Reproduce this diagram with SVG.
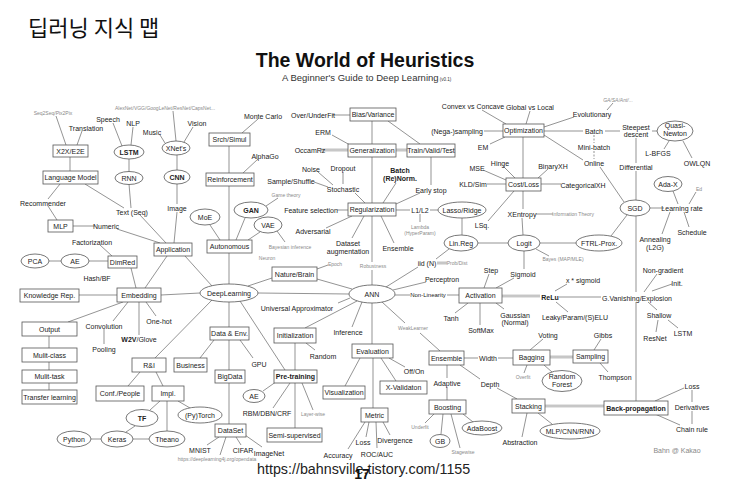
<svg xmlns="http://www.w3.org/2000/svg" width="729" height="483" viewBox="0 0 729 483">
<style>
text{font-family:"Liberation Sans",Arial,sans-serif;font-size:7px;fill:#222;text-anchor:middle}
.b{font-weight:bold}
.g{font-size:5px;fill:#8a8a8a}
.s{font-size:6px}
.n rect,.n ellipse{fill:#fff;stroke:#555;stroke-width:0.8}
#edges line{stroke:#666;stroke-width:0.7}
#edges line.d{stroke:#999;stroke-width:2.6}
#edges line.w{stroke:#fff;stroke-width:0.9}
#edges line.dash{stroke-dasharray:2 1.5}
</style>
<rect width="729" height="483" fill="#fff"/>
<g id="title">
<text x="28" y="36" style="font-family:'Noto Sans CJK KR','Noto Sans',sans-serif;font-size:22px;text-anchor:start;fill:#111">딥러닝 지식 맵</text>
<text x="365" y="67" class="b" style="font-size:19.5px;fill:#111">The World of Heuristics</text>
<text x="282" y="81" style="font-size:9.5px;text-anchor:start;fill:#333">A Beginner's Guide to Deep Learning<tspan style="font-size:4.5px"> (v0.1)</tspan></text>
</g>
<g id="edges">
<line x1="56" y1="116" x2="66" y2="145"/>
<line x1="82" y1="131" x2="77" y2="145"/>
<line x1="70" y1="157" x2="70" y2="171"/>
<line x1="60" y1="184" x2="48" y2="199"/>
<line x1="85" y1="184" x2="124" y2="208"/>
<line x1="48" y1="206" x2="57" y2="220"/>
<line x1="73" y1="226" x2="95" y2="226"/>
<line x1="117" y1="229" x2="160" y2="243"/>
<line x1="140" y1="215" x2="166" y2="243"/>
<line x1="177" y1="212" x2="174" y2="243"/>
<line x1="113" y1="123" x2="122" y2="146"/>
<line x1="133" y1="127" x2="131" y2="145"/>
<line x1="129" y1="159" x2="129" y2="172"/>
<line x1="129" y1="184" x2="131" y2="208"/>
<line x1="160" y1="135" x2="165" y2="143"/>
<line x1="173" y1="111" x2="176" y2="141"/>
<line x1="193" y1="127" x2="184" y2="142"/>
<line x1="177" y1="155" x2="177" y2="170"/>
<line x1="177" y1="184" x2="177" y2="204"/>
<line x1="258" y1="119" x2="242" y2="133"/>
<line x1="229" y1="146" x2="229" y2="173"/>
<line x1="258" y1="159" x2="243" y2="173"/>
<line x1="229" y1="186" x2="229" y2="240"/>
<line x1="210" y1="225" x2="220" y2="240"/>
<line x1="245" y1="218" x2="236" y2="240"/>
<line x1="260" y1="232" x2="248" y2="240"/>
<line x1="266" y1="206" x2="278" y2="198"/>
<line x1="277" y1="231" x2="285" y2="242"/>
<line x1="229" y1="253" x2="229" y2="284"/>
<line x1="185" y1="256" x2="212" y2="286"/>
<line x1="167" y1="256" x2="145" y2="288"/>
<line x1="131" y1="268" x2="136" y2="288"/>
<line x1="100" y1="245" x2="112" y2="256"/>
<line x1="49" y1="261" x2="61" y2="261"/>
<line x1="89" y1="261" x2="108" y2="261"/>
<line x1="79" y1="295" x2="117" y2="295"/>
<line x1="161" y1="295" x2="200" y2="293"/>
<line x1="123" y1="302" x2="68" y2="322"/>
<line x1="128" y1="302" x2="113" y2="321"/>
<line x1="104" y1="329" x2="104" y2="344"/>
<line x1="139" y1="302" x2="139" y2="335"/>
<line x1="146" y1="302" x2="156" y2="316"/>
<line x1="49" y1="336" x2="49" y2="348"/>
<line x1="49" y1="362" x2="49" y2="370"/>
<line x1="49" y1="383" x2="49" y2="390"/>
<line x1="248" y1="286" x2="272" y2="278"/>
<line x1="317" y1="269" x2="328" y2="265"/>
<line x1="317" y1="279" x2="352" y2="289"/>
<line x1="258" y1="293" x2="349" y2="294"/>
<line x1="229" y1="302" x2="229" y2="327"/>
<line x1="240" y1="301" x2="285" y2="370"/>
<line x1="212" y1="300" x2="155" y2="358"/>
<line x1="214" y1="340" x2="200" y2="358"/>
<line x1="229" y1="340" x2="229" y2="370"/>
<line x1="240" y1="340" x2="253" y2="358"/>
<line x1="229" y1="383" x2="229" y2="424"/>
<line x1="219" y1="437" x2="207" y2="445"/>
<line x1="226" y1="437" x2="220" y2="455"/>
<line x1="236" y1="437" x2="241" y2="445"/>
<line x1="245" y1="435" x2="262" y2="447"/>
<line x1="140" y1="372" x2="128" y2="386"/>
<line x1="156" y1="372" x2="163" y2="386"/>
<line x1="160" y1="401" x2="150" y2="410"/>
<line x1="167" y1="401" x2="167" y2="431"/>
<line x1="178" y1="401" x2="190" y2="408"/>
<line x1="135" y1="426" x2="126" y2="432"/>
<line x1="91" y1="439" x2="101" y2="439"/>
<line x1="133" y1="439" x2="149" y2="439"/>
<line x1="350" y1="298" x2="338" y2="303"/>
<line x1="357" y1="301" x2="305" y2="328"/>
<line x1="306" y1="343" x2="315" y2="350"/>
<line x1="295" y1="343" x2="295" y2="370"/>
<line x1="280" y1="379" x2="263" y2="391"/>
<line x1="290" y1="383" x2="273" y2="408"/>
<line x1="302" y1="383" x2="313" y2="410"/>
<line x1="295" y1="383" x2="295" y2="428"/>
<line x1="362" y1="302" x2="352" y2="327"/>
<line x1="372" y1="303" x2="372" y2="344"/>
<line x1="382" y1="302" x2="405" y2="323"/>
<line x1="420" y1="333" x2="440" y2="351"/>
<line x1="364" y1="216" x2="352" y2="238"/>
<line x1="352" y1="216" x2="326" y2="228"/>
<line x1="372" y1="216" x2="372" y2="262"/>
<line x1="372" y1="270" x2="372" y2="285"/>
<line x1="381" y1="216" x2="394" y2="243"/>
<line x1="337" y1="210" x2="348" y2="210"/>
<line x1="355" y1="193" x2="365" y2="203"/>
<line x1="318" y1="172" x2="333" y2="185"/>
<line x1="343" y1="172" x2="343" y2="184"/>
<line x1="314" y1="182" x2="328" y2="187"/>
<line x1="396" y1="183" x2="383" y2="203"/>
<line x1="420" y1="193" x2="396" y2="204"/>
<line x1="431" y1="157" x2="431" y2="185"/>
<line class="d" x1="396" y1="150" x2="407" y2="150"/>
<line class="w" x1="396" y1="150" x2="407" y2="150"/>
<line x1="372" y1="157" x2="372" y2="203"/>
<line x1="372" y1="121" x2="372" y2="144"/>
<line x1="388" y1="121" x2="420" y2="144"/>
<line x1="332" y1="115" x2="350" y2="115"/>
<line x1="332" y1="135" x2="350" y2="145"/>
<line class="d" x1="321" y1="150" x2="348" y2="150"/>
<line class="w" x1="321" y1="150" x2="348" y2="150"/>
<line x1="396" y1="210" x2="410" y2="210"/>
<line x1="430" y1="210" x2="438" y2="210"/>
<line x1="420" y1="214" x2="420" y2="222"/>
<line x1="462" y1="218" x2="462" y2="235"/>
<line x1="449" y1="249" x2="436" y2="259"/>
<line class="d" x1="437" y1="263" x2="447" y2="263"/>
<line class="w" x1="437" y1="263" x2="447" y2="263"/>
<line x1="478" y1="243" x2="508" y2="243"/>
<line x1="540" y1="243" x2="576" y2="243"/>
<line x1="524" y1="251" x2="524" y2="269"/>
<line x1="536" y1="249" x2="549" y2="256"/>
<line x1="522" y1="218" x2="523" y2="235"/>
<line x1="536" y1="214" x2="553" y2="214"/>
<line x1="514" y1="191" x2="488" y2="221"/>
<line x1="523" y1="191" x2="523" y2="209"/>
<line x1="483" y1="170" x2="506" y2="180"/>
<line x1="503" y1="166" x2="515" y2="178"/>
<line x1="548" y1="169" x2="538" y2="178"/>
<line x1="487" y1="184" x2="506" y2="184"/>
<line x1="541" y1="184" x2="561" y2="184"/>
<line x1="523" y1="137" x2="523" y2="178"/>
<line x1="482" y1="110" x2="506" y2="124"/>
<line x1="530" y1="111" x2="526" y2="124"/>
<line x1="484" y1="131" x2="503" y2="131"/>
<line x1="490" y1="144" x2="505" y2="137"/>
<line x1="544" y1="127" x2="574" y2="117"/>
<line x1="607" y1="110" x2="613" y2="103"/>
<line x1="544" y1="131" x2="583" y2="131"/>
<line x1="605" y1="131" x2="620" y2="131"/>
<line class="dash" x1="594" y1="135" x2="594" y2="143"/>
<line class="dash" x1="594" y1="151" x2="594" y2="159"/>
<line x1="544" y1="135" x2="583" y2="160"/>
<line x1="652" y1="131" x2="657" y2="131"/>
<line x1="669" y1="141" x2="664" y2="149"/>
<line x1="683" y1="141" x2="692" y2="158"/>
<line x1="636" y1="138" x2="636" y2="163"/>
<line x1="636" y1="171" x2="636" y2="200"/>
<line x1="600" y1="167" x2="624" y2="202"/>
<line x1="650" y1="208" x2="664" y2="208"/>
<line x1="673" y1="191" x2="678" y2="204"/>
<line x1="696" y1="192" x2="689" y2="204"/>
<line x1="684" y1="212" x2="689" y2="227"/>
<line x1="670" y1="212" x2="662" y2="234"/>
<line x1="627" y1="215" x2="611" y2="236"/>
<line x1="636" y1="216" x2="636" y2="292"/>
<line x1="636" y1="302" x2="636" y2="401"/>
<line x1="657" y1="274" x2="644" y2="292"/>
<line x1="672" y1="284" x2="652" y2="291"/>
<line x1="648" y1="302" x2="657" y2="310"/>
<line x1="658" y1="320" x2="656" y2="332"/>
<line x1="668" y1="320" x2="678" y2="328"/>
<line x1="559" y1="297" x2="601" y2="297"/>
<line class="d" x1="502" y1="296" x2="540" y2="296"/>
<line class="w" x1="502" y1="296" x2="540" y2="296"/>
<line x1="484" y1="288" x2="489" y2="274"/>
<line x1="496" y1="288" x2="514" y2="278"/>
<line x1="468" y1="303" x2="455" y2="313"/>
<line x1="480" y1="303" x2="480" y2="325"/>
<line x1="496" y1="303" x2="504" y2="309"/>
<line x1="555" y1="291" x2="567" y2="284"/>
<line x1="556" y1="302" x2="568" y2="312"/>
<line x1="393" y1="290" x2="426" y2="282"/>
<line x1="386" y1="287" x2="418" y2="267"/>
<line x1="395" y1="295" x2="410" y2="295"/>
<line x1="447" y1="295" x2="459" y2="295"/>
<line x1="464" y1="358" x2="478" y2="358"/>
<line x1="498" y1="358" x2="513" y2="358"/>
<line x1="447" y1="365" x2="447" y2="378"/>
<line x1="460" y1="365" x2="480" y2="379"/>
<line x1="447" y1="387" x2="447" y2="400"/>
<line x1="497" y1="388" x2="517" y2="399"/>
<line x1="530" y1="350" x2="543" y2="339"/>
<line x1="527" y1="365" x2="524" y2="373"/>
<line x1="544" y1="365" x2="552" y2="372"/>
<line class="d" x1="550" y1="357" x2="573" y2="357"/>
<line class="w" x1="550" y1="357" x2="573" y2="357"/>
<line x1="594" y1="350" x2="601" y2="339"/>
<line x1="600" y1="363" x2="608" y2="372"/>
<line class="d" x1="545" y1="406" x2="604" y2="406"/>
<line class="w" x1="545" y1="406" x2="604" y2="406"/>
<line x1="538" y1="413" x2="552" y2="424"/>
<line x1="527" y1="413" x2="522" y2="437"/>
<line x1="434" y1="414" x2="425" y2="423"/>
<line x1="443" y1="414" x2="441" y2="434"/>
<line x1="451" y1="414" x2="460" y2="448"/>
<line x1="463" y1="414" x2="473" y2="422"/>
<line x1="655" y1="401" x2="684" y2="388"/>
<line x1="655" y1="414" x2="680" y2="425"/>
<line x1="692" y1="390" x2="692" y2="402"/>
<line x1="692" y1="411" x2="692" y2="424"/>
<line x1="360" y1="358" x2="345" y2="386"/>
<line x1="381" y1="358" x2="396" y2="381"/>
<line x1="389" y1="358" x2="405" y2="367"/>
<line x1="373" y1="358" x2="373" y2="408"/>
<line x1="365" y1="422" x2="348" y2="449"/>
<line x1="369" y1="422" x2="366" y2="437"/>
<line x1="376" y1="422" x2="377" y2="448"/>
<line x1="383" y1="422" x2="390" y2="435"/>
</g>
<g id="n-x2x" class="n"><rect x="53" y="145" width="35" height="12"/><text x="70.5" y="153.5">X2X/E2E</text></g>
<g id="n-langmodel" class="n"><rect x="43" y="171" width="55" height="13"/><text x="70.5" y="180">Language Model</text></g>
<g id="n-mlp" class="n"><rect x="48" y="220" width="25" height="12"/><text x="60.5" y="228.5">MLP</text></g>
<g id="n-srch" class="n"><rect x="209" y="133" width="41" height="13"/><text x="229.5" y="142">Srch/Simul</text></g>
<g id="n-reinf" class="n"><rect x="206" y="173" width="48" height="13"/><text x="230" y="182">Reinforcement</text></g>
<g id="n-auto" class="n"><rect x="207" y="240" width="45" height="13"/><text x="229.5" y="249">Autonomous</text></g>
<g id="n-app" class="n"><rect x="154" y="243" width="38" height="13"/><text x="173" y="252">Application</text></g>
<g id="n-bias" class="n"><rect x="350" y="108" width="46" height="13"/><text x="373" y="117">Bias/Variance</text></g>
<g id="n-gen" class="n"><rect x="348" y="144" width="48" height="13"/><text x="372" y="153">Generalization</text></g>
<g id="n-tvt" class="n"><rect x="407" y="144" width="48" height="13"/><text x="431" y="153">Train/Valid/Test</text></g>
<g id="n-reg" class="n"><rect x="348" y="203" width="48" height="13"/><text x="372" y="212">Regularization</text></g>
<g id="n-opt" class="n"><rect x="503" y="124" width="41" height="13"/><text x="523.5" y="133">Optimization</text></g>
<g id="n-cost" class="n"><rect x="506" y="178" width="35" height="13"/><text x="523.5" y="187">Cost/Loss</text></g>
<g id="n-dimred" class="n"><rect x="108" y="256" width="29" height="12"/><text x="122.5" y="264.5">DimRed</text></g>
<g id="n-krep" class="n"><rect x="20" y="289" width="59" height="13"/><text x="49.5" y="298">Knowledge Rep.</text></g>
<g id="n-embed" class="n"><rect x="117" y="288" width="44" height="14"/><text x="139" y="297.5">Embedding</text></g>
<g id="n-nature" class="n"><rect x="272" y="267" width="45" height="14"/><text x="294.5" y="276.5">Nature/Brain</text></g>
<g id="n-act" class="n"><rect x="459" y="288" width="43" height="15"/><text x="480.5" y="298">Activation</text></g>
<g id="n-output" class="n"><rect x="22" y="322" width="55" height="14"/><text x="49.5" y="331.5">Output</text></g>
<g id="n-mclass" class="n"><rect x="22" y="348" width="55" height="14"/><text x="49.5" y="357.5">Mulit-class</text></g>
<g id="n-mtask" class="n"><rect x="22" y="370" width="55" height="13"/><text x="49.5" y="379">Mulit-task</text></g>
<g id="n-transfer" class="n"><rect x="22" y="390" width="55" height="14"/><text x="49.5" y="399.5">Transfer learning</text></g>
<g id="n-dataenv" class="n"><rect x="210" y="327" width="39" height="13"/><text x="229.5" y="336">Data &amp; Env.</text></g>
<g id="n-init" class="n"><rect x="274" y="328" width="42" height="15"/><text x="295" y="338">Initialization</text></g>
<g id="n-eval" class="n"><rect x="352" y="344" width="41" height="14"/><text x="372.5" y="353.5">Evaluation</text></g>
<g id="n-ensemble" class="n"><rect x="429" y="351" width="35" height="14"/><text x="446.5" y="360.5">Ensemble</text></g>
<g id="n-bagging" class="n"><rect x="513" y="350" width="37" height="15"/><text x="531.5" y="360">Bagging</text></g>
<g id="n-sampling" class="n"><rect x="573" y="350" width="35" height="13"/><text x="590.5" y="359">Sampling</text></g>
<g id="n-ri" class="n"><rect x="132" y="358" width="34" height="14"/><text x="149" y="367.5">R&amp;I</text></g>
<g id="n-business" class="n"><rect x="174" y="358" width="33" height="14"/><text x="190.5" y="367.5">Business</text></g>
<g id="n-bigdata" class="n"><rect x="215" y="370" width="30" height="13"/><text x="230" y="379">BigData</text></g>
<g id="n-pretrain" class="n"><rect x="274" y="370" width="43" height="13"/><text x="295.5" y="379" class="b">Pre-training</text></g>
<g id="n-conf" class="n"><rect x="96" y="386" width="48" height="15"/><text x="120" y="396">Conf./People</text></g>
<g id="n-impl" class="n"><rect x="152" y="386" width="32" height="15"/><text x="168" y="396">Impl.</text></g>
<g id="n-vis" class="n"><rect x="323" y="386" width="42" height="13"/><text x="344" y="395">Visualization</text></g>
<g id="n-xval" class="n"><rect x="380" y="381" width="47" height="13"/><text x="403.5" y="390">X-Validaton</text></g>
<g id="n-boost" class="n"><rect x="429" y="400" width="37" height="14"/><text x="447.5" y="409.5">Boosting</text></g>
<g id="n-stack" class="n"><rect x="512" y="399" width="33" height="14"/><text x="528.5" y="408.5">Stacking</text></g>
<g id="n-backprop" class="n"><rect x="604" y="401" width="64" height="14"/><text x="636" y="410.5" class="b">Back-propagation</text></g>
<g id="n-metric" class="n"><rect x="361" y="408" width="27" height="14"/><text x="374.5" y="417.5">Metric</text></g>
<g id="n-dataset" class="n"><rect x="215" y="424" width="31" height="13"/><text x="230.5" y="433">DataSet</text></g>
<g id="n-semi" class="n"><rect x="267" y="428" width="55" height="14"/><text x="294.5" y="437.5">Semi-supervised</text></g>
<g id="n-lstm" class="n"><ellipse cx="129" cy="152" rx="15" ry="7"/><text x="129" y="154.5" class="b">LSTM</text></g>
<g id="n-xnet" class="n"><ellipse cx="176" cy="148" rx="14" ry="7"/><text x="176" y="150.5">XNet's</text></g>
<g id="n-rnn" class="n"><ellipse cx="129" cy="178" rx="14" ry="6.5"/><text x="129" y="180.5">RNN</text></g>
<g id="n-cnn" class="n"><ellipse cx="177" cy="177" rx="13" ry="7"/><text x="177" y="179.5" class="b">CNN</text></g>
<g id="n-gan" class="n"><ellipse cx="251" cy="210" rx="17" ry="8"/><text x="251" y="212.5" class="b">GAN</text></g>
<g id="n-moe" class="n"><ellipse cx="205" cy="217" rx="15" ry="8"/><text x="205" y="219.5">MoE</text></g>
<g id="n-vae" class="n"><ellipse cx="268" cy="225" rx="14" ry="8"/><text x="268" y="227.5">VAE</text></g>
<g id="n-lasso" class="n"><ellipse cx="462" cy="210" rx="24" ry="8"/><text x="462" y="212.5">Lasso/Ridge</text></g>
<g id="n-quasi" class="n"><ellipse cx="675" cy="131" rx="18" ry="10"/><text x="675" y="128">Quasi-</text><text x="675" y="136">Newton</text></g>
<g id="n-adax" class="n"><ellipse cx="668" cy="184" rx="14" ry="7.5"/><text x="668" y="186.5">Ada-X</text></g>
<g id="n-sgd" class="n"><ellipse cx="635" cy="208" rx="15" ry="8"/><text x="635" y="210.5">SGD</text></g>
<g id="n-linreg" class="n"><ellipse cx="461" cy="243" rx="17" ry="8"/><text x="461" y="245.5">Lin.Reg</text></g>
<g id="n-logit" class="n"><ellipse cx="524" cy="243" rx="16" ry="8"/><text x="524" y="245.5">Logit</text></g>
<g id="n-ftrl" class="n"><ellipse cx="599" cy="243" rx="23" ry="8"/><text x="599" y="245.5">FTRL-Prox.</text></g>
<g id="n-pca" class="n"><ellipse cx="35" cy="261" rx="14" ry="7"/><text x="35" y="263.5">PCA</text></g>
<g id="n-ae" class="n"><ellipse cx="75" cy="261" rx="14" ry="7"/><text x="75" y="263.5">AE</text></g>
<g id="n-dl" class="n"><ellipse cx="229" cy="293" rx="29" ry="9"/><text x="229" y="295.5">DeepLearning</text></g>
<g id="n-ann" class="n"><ellipse cx="372" cy="294" rx="23" ry="9"/><text x="372" y="296.5">ANN</text></g>
<g id="n-rf" class="n"><ellipse cx="562" cy="381" rx="20" ry="10.5"/><text x="562" y="378.5">Random</text><text x="562" y="386.5">Forest</text></g>
<g id="n-ae2" class="n"><ellipse cx="254" cy="396" rx="11" ry="6.5"/><text x="254" y="398.5">AE</text></g>
<g id="n-tf" class="n"><ellipse cx="142" cy="418" rx="16" ry="8.5"/><text x="142" y="420.5" class="b">TF</text></g>
<g id="n-torch" class="n"><ellipse cx="200" cy="415" rx="22" ry="8"/><text x="200" y="417.5">(Py)Torch</text></g>
<g id="n-adaboost" class="n"><ellipse cx="482" cy="428" rx="20" ry="7"/><text x="482" y="430.5">AdaBoost</text></g>
<g id="n-mlpcnn" class="n"><ellipse cx="570" cy="431" rx="30" ry="8"/><text x="570" y="433.5">MLP/CNN/RNN</text></g>
<g id="n-gb" class="n"><ellipse cx="440" cy="441" rx="10" ry="6.5"/><text x="440" y="443.5">GB</text></g>
<g id="n-python" class="n"><ellipse cx="74" cy="439" rx="17" ry="8"/><text x="74" y="441.5">Python</text></g>
<g id="n-keras" class="n"><ellipse cx="117" cy="439" rx="16" ry="8"/><text x="117" y="441.5">Keras</text></g>
<g id="n-theano" class="n"><ellipse cx="167" cy="439" rx="18" ry="8"/><text x="167" y="441.5">Theano</text></g>
<g id="labels">
<text x="53" y="115" class="g">Seq2Seq/Pix2Pix</text>
<text x="115" y="110" class="g" style="text-anchor:start">AlexNet/VGG/GoogLeNet/ResNet/CapsNet...</text>
<text x="108" y="121.5">Speech</text>
<text x="133" y="125.5">NLP</text>
<text x="86" y="130.5">Translation</text>
<text x="152" y="134.5">Music</text>
<text x="197" y="125.5">Vision</text>
<text x="263" y="118.5">Monte Carlo</text>
<text x="313" y="117.5">Over/UnderFit</text>
<text x="323" y="134.5">ERM</text>
<text x="310" y="152.5">OccamRz</text>
<text x="265" y="158.5">AlphaGo</text>
<text x="311" y="171.5">Noise</text>
<text x="343" y="170.5">Dropout</text>
<text x="291" y="183.5">Sample/Shuffle</text>
<text x="343" y="191.5">Stochastic</text>
<text x="400" y="172.5" class="b">Batch</text>
<text x="400" y="180.5" class="b">(Re)Norm.</text>
<text x="431" y="192.5">Early stop</text>
<text x="473" y="108.5">Convex vs Concave</text>
<text x="530" y="109.5">Global vs Local</text>
<text x="618" y="101.5" class="g" style="font-style:italic">GA/SA/Ant/...</text>
<text x="592" y="116.5">Evolutionary</text>
<text x="457" y="133.5">(Nega-)sampling</text>
<text x="483" y="149.5">EM</text>
<text x="594" y="133.5">Batch</text>
<text x="636" y="129.5">Steepest</text>
<text x="636" y="136.5">descent</text>
<text x="594" y="149.5">Mini-batch</text>
<text x="594" y="165.5">Online</text>
<text x="658" y="155.5">L-BFGS</text>
<text x="697" y="165.5">OWLQN</text>
<text x="636" y="169.5">Differential</text>
<text x="477" y="170.5">MSE</text>
<text x="500" y="165.5">Hinge</text>
<text x="553" y="168.5">BinaryXH</text>
<text x="473" y="186.5">KLD/Sim</text>
<text x="583" y="187.5">CategoricalXH</text>
<text x="43" y="205.5">Recommender</text>
<text x="132" y="214.5">Text (Seq)</text>
<text x="177" y="210.5">Image</text>
<text x="106" y="228.5">Numeric</text>
<text x="286" y="197" class="g">Game theory</text>
<text x="311" y="212.5">Feature selection</text>
<text x="313" y="233.5">Adversarial</text>
<text x="290" y="249" class="g">Bayesian inference</text>
<text x="420" y="212.5">L1/L2</text>
<text x="420" y="229" class="g">Lambda</text>
<text x="420" y="235" class="g">(HyperParam)</text>
<text x="482" y="227.5">LSq.</text>
<text x="522" y="216.5">XEntropy</text>
<text x="573" y="216" class="g">Information Theory</text>
<text x="699" y="191" class="g">Ed</text>
<text x="682" y="210.5">Learning rate</text>
<text x="692" y="234.5">Schedule</text>
<text x="655" y="241.5">Annealing</text>
<text x="655" y="249.5">(L2G)</text>
<text x="348" y="245.5">Dataset</text>
<text x="348" y="253.5">augmentation</text>
<text x="398" y="250.5">Ensemble</text>
<text x="92" y="244.5">Factorization</text>
<text x="97" y="280.5">Hash/BF</text>
<text x="563" y="261" class="g">Bayes (MAP/MLE)</text>
<text x="267" y="260" class="g">Neuron</text>
<text x="335" y="266" class="g">Epoch</text>
<text x="373" y="268" class="g">Robustness</text>
<text x="427" y="265.5">iid (N)</text>
<text x="457" y="265" class="g">Prob/Dist</text>
<text x="491" y="272.5">Step</text>
<text x="523" y="276.5">Sigmoid</text>
<text x="583" y="282.5">x * sigmoid</text>
<text x="663" y="272.5">Non-gradient</text>
<text x="677" y="285.5">Init.</text>
<text x="442" y="281.5">Perceptron</text>
<text x="428" y="297" class="s">Non-Linearity</text>
<text x="550" y="299.5" class="b">ReLu</text>
<text x="637" y="300.5">G.Vanishing/Explosion</text>
<text x="297" y="310.5">Universal Approximator</text>
<text x="575" y="319.5">Leaky/Param/(S)ELU</text>
<text x="451" y="320.5">Tanh</text>
<text x="481" y="332.5">SoftMax</text>
<text x="515" y="317.5">Gaussian</text>
<text x="515" y="325">(Normal)</text>
<text x="659" y="317.5">Shallow</text>
<text x="159" y="323.5">One-hot</text>
<text x="104" y="328.5">Convolution</text>
<text x="139" y="341.5"><tspan class="b">W2V</tspan>/Glove</text>
<text x="104" y="351.5">Pooling</text>
<text x="348" y="334.5">Inference</text>
<text x="413" y="330" class="g">WeakLearner</text>
<text x="655" y="340.5">ResNet</text>
<text x="683" y="335.5">LSTM</text>
<text x="323" y="358.5">Random</text>
<text x="488" y="360.5">Width</text>
<text x="548" y="337.5">Voting</text>
<text x="603" y="337.5">Gibbs</text>
<text x="259" y="366.5">GPU</text>
<text x="414" y="373.5">Off/On</text>
<text x="523" y="379" class="g">Overfit</text>
<text x="615" y="379.5">Thompson</text>
<text x="447" y="385.5">Adaptive</text>
<text x="490" y="386.5">Depth</text>
<text x="692" y="388.5">Loss</text>
<text x="692" y="409.5">Derivatives</text>
<text x="692" y="431.5">Chain rule</text>
<text x="267" y="415.5">RBM/DBN/CRF</text>
<text x="313" y="416" class="g">Layer-wise</text>
<text x="420" y="429" class="g">Underfit</text>
<text x="363" y="444.5">Loss</text>
<text x="395" y="442.5">Divergence</text>
<text x="520" y="444.5">Abstraction</text>
<text x="338" y="457.5">Accuracy</text>
<text x="377" y="456.5">ROC/AUC</text>
<text x="463" y="454" class="g">Stagewise</text>
<text x="200" y="452.5">MNIST</text>
<text x="243" y="452.5">CIFAR</text>
<text x="269" y="455.5">ImageNet</text>
<text x="217" y="461" class="g">https://deeplearning4j.org/opendata</text>
<text x="677" y="452.5" style="fill:#888">Bahn @ Kakao</text>
</g>
<g id="footer">
<text x="257" y="474" style="font-size:14.3px;text-anchor:start;fill:#222">https://bahnsville.tistory.com/1155</text>
<text x="362" y="479" class="b" style="font-size:14px;fill:#111">17</text>
</g>
</svg>
